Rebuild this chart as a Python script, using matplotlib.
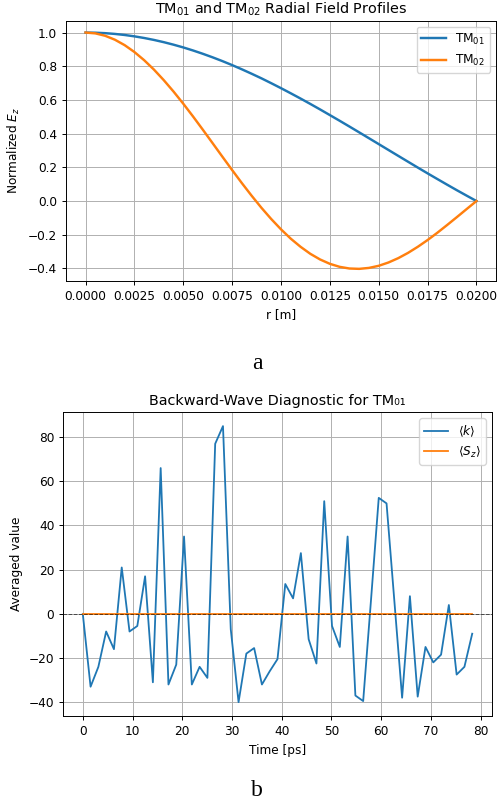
import matplotlib
matplotlib.use("Agg")
import matplotlib.pyplot as plt
import numpy as np
from matplotlib.ticker import MultipleLocator, FormatStrFormatter

# Radial positions across the guide radius [m]
r_pos = [0.0000, 0.0005, 0.0010, 0.0015, 0.0020, 0.0025, 0.0030, 0.0035,
         0.0040, 0.0045, 0.0050, 0.0055, 0.0060, 0.0065, 0.0070, 0.0075,
         0.0080, 0.0085, 0.0090, 0.0095, 0.0100, 0.0105, 0.0110, 0.0115,
         0.0120, 0.0125, 0.0130, 0.0135, 0.0140, 0.0145, 0.0150, 0.0155,
         0.0160, 0.0165, 0.0170, 0.0175, 0.0180, 0.0185, 0.0190, 0.0195,
         0.0200]

# Normalized Ez for the two modes
ez_tm01 = [1.0000, 0.9991, 0.9964, 0.9919, 0.9856, 0.9775, 0.9677, 0.9562,
           0.9430, 0.9281, 0.9117, 0.8936, 0.8740, 0.8530, 0.8306, 0.8068,
           0.7817, 0.7554, 0.7282, 0.6994, 0.6699, 0.6394, 0.6083, 0.5763,
           0.5436, 0.5101, 0.4764, 0.4422, 0.4076, 0.3728, 0.3379, 0.3029,
           0.2680, 0.2332, 0.1985, 0.1642, 0.1305, 0.0970, 0.0640, 0.0318,
           0.0000]
ez_tm02 = [1.0000, 0.9952, 0.9810, 0.9576, 0.9253, 0.8845, 0.8358, 0.7801,
           0.7177, 0.6500, 0.5777, 0.5018, 0.4234, 0.3435, 0.2633, 0.1838,
           0.1060, 0.0311, -0.0403, -0.1068, -0.1680, -0.2235, -0.2716,
           -0.3133, -0.3469, -0.3727, -0.3906, -0.4005, -0.4026, -0.3970,
           -0.3844, -0.3647, -0.3390, -0.3077, -0.2715, -0.2315, -0.1882,
           -0.1423, -0.0953, -0.0475, 0.0000]

# Time-averaged diagnostics, sampled every ~1.566 ps
time_ps = np.linspace(0.0, 78.3, 51)
k_avg = [0, -33, -24, -8, -16, 21, -8, -5.5, 17, -31, 66, -32, -23, 35, -32,
         -24, -29, 77, 85, -7, -40, -18, -15.5, -32, -26, -20.5, 13.5, 7,
         27.5, -11.5, -22.5, 51, -5.5, -15, 35, -37, -39.5, 6, 52.5, 50, 6,
         -38, 8, -37.5, -15, -22, -18.5, 4, -27.5, -24, -9]
sz_avg = [0.0] * 51

plt.rcParams["font.size"] = 8.7
plt.rcParams["axes.titlesize"] = 10.4
plt.rcParams["axes.linewidth"] = 0.7
plt.rcParams["xtick.major.width"] = 0.7
plt.rcParams["ytick.major.width"] = 0.7
plt.rcParams["xtick.major.size"] = 3.0
plt.rcParams["ytick.major.size"] = 3.0
plt.rcParams["grid.linewidth"] = 0.7
plt.rcParams["legend.fontsize"] = 8.7

fig = plt.figure(figsize=(4.97, 8.07), dpi=100)

# Radial field profiles
ax1 = fig.add_axes([0.1328, 0.6522, 0.8652, 0.3221])
ax1.plot(r_pos, ez_tm01, color="tab:blue", lw=1.75, label="TM$_{01}$")
ax1.plot(r_pos, ez_tm02, color="tab:orange", lw=1.75, label="TM$_{02}$")
ax1.set_title("TM$_{01}$ and TM$_{02}$ Radial Field Profiles", pad=5)
ax1.set_xlabel("r [m]")
ax1.set_ylabel("Normalized $E_z$")
ax1.xaxis.set_major_locator(MultipleLocator(0.0025))
ax1.xaxis.set_major_formatter(FormatStrFormatter("%.4f"))
ax1.yaxis.set_major_locator(MultipleLocator(0.2))
ax1.grid(True)
ax1.legend(loc="upper right")

# Backward-wave diagnostic
ax2 = fig.add_axes([0.1274, 0.1128, 0.8619, 0.3763])
ax2.plot(time_ps, k_avg, color="tab:blue", lw=1.3, label=r"$\langle k \rangle$")
ax2.plot(time_ps, sz_avg, color="tab:orange", lw=1.3,
         label=r"$\langle S_z \rangle$")
ax2.axhline(0, color="k", ls="--", lw=0.7, alpha=0.6)
ax2.set_title("Backward-Wave Diagnostic for TM\u2080\u2081", pad=5)
ax2.set_xlabel("Time [ps]")
ax2.set_ylabel("Averaged value")
ax2.xaxis.set_major_locator(MultipleLocator(10))
ax2.yaxis.set_major_locator(MultipleLocator(20))
ax2.grid(True)
ax2.legend(loc="upper right")

# Panel letters
fig.text(0.517, 0.550, "a", ha="center", va="center", fontsize=17,
         family="Liberation Serif")
fig.text(0.517, 0.021, "b", ha="center", va="center", fontsize=17,
         family="Liberation Serif")

fig.savefig("out.png", dpi=100)
